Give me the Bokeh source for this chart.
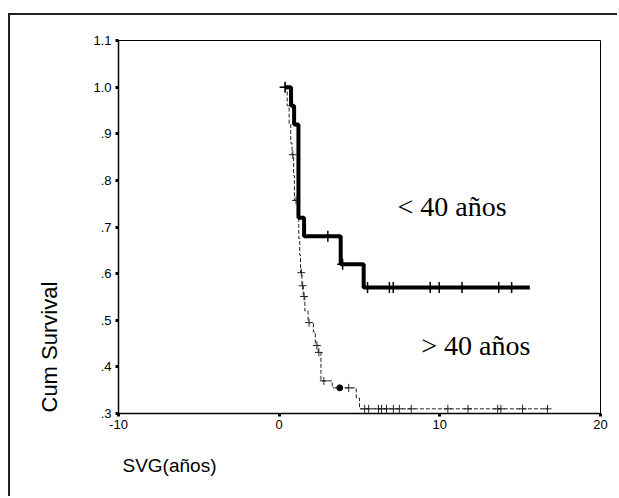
import math
from bokeh.plotting import figure
from bokeh.models import Title, FixedTicker, CustomJSTickFormatter, Range1d, Label
from bokeh.embed import file_html
from bokeh.resources import INLINE

# ---- data ----
x_ticks = [-10, 0, 10, 20]
x_tick_labels = ["-10", "0", "10", "20"]
y_ticks = [0.3, 0.4, 0.5, 0.6, 0.7, 0.8, 0.9, 1.0, 1.1]
y_tick_labels = [".3", ".4", ".5", ".6", ".7", ".8", ".9", "1.0", "1.1"]

# < 40 años (thick curve), step function: times and survival after each time
young_t = [0.4, 0.74, 0.93, 1.2, 1.55, 3.83, 5.26, 15.6]
young_s = [1.0, 0.96, 0.92, 0.72, 0.68, 0.62, 0.57, 0.57]
young_cens_t = [0.37, 3.03, 3.95, 5.5, 6.86, 7.1, 9.4, 9.96, 11.38, 13.67, 14.47]
young_cens_s = [1.0, 0.68, 0.62, 0.57, 0.57, 0.57, 0.57, 0.57, 0.57, 0.57, 0.57]

# > 40 años (thin dashed curve)
old_t = [0.4, 0.5, 0.62, 0.72, 0.8, 0.9, 0.95, 1.15, 1.22, 1.28, 1.33, 1.42, 1.5,
         1.6, 1.8, 2.13, 2.25, 2.43, 2.6, 3.3, 4.8, 5.0, 16.7]
old_s = [1.0, 0.96, 0.92, 0.88, 0.855, 0.81, 0.757, 0.72, 0.675, 0.64, 0.602, 0.574,
         0.551, 0.52, 0.495, 0.475, 0.446, 0.431, 0.37, 0.355, 0.333, 0.31, 0.31]
old_cens_t = [0.37, 0.85, 1.05, 1.38, 1.46, 1.55, 1.86, 2.35, 2.47, 2.78, 4.33,
              5.32, 5.57, 6.18, 6.37, 6.68, 7.11, 7.48, 8.22, 10.5, 11.75, 13.6, 13.8, 15.15, 16.7]
old_cens_s = [1.0, 0.855, 0.757, 0.602, 0.574, 0.551, 0.495, 0.446, 0.431, 0.37, 0.355,
              0.31, 0.31, 0.31, 0.31, 0.31, 0.31, 0.31, 0.31, 0.31, 0.31, 0.31, 0.31, 0.31, 0.31]
old_dot_t = [3.77]
old_dot_s = [0.355]

p = figure(width=609, height=483, x_range=Range1d(-10, 20), y_range=Range1d(0.3, 1.1),
           output_backend="svg", toolbar_location=None,
           min_border_left=105, min_border_right=19, min_border_top=25, min_border_bottom=85)
p.styles = {"border-top": "2px solid #222", "border-left": "2px solid #222",
            "margin-top": "13px", "margin-left": "8px"}
p.grid.visible = False
p.outline_line_color = "#000000"
p.outline_line_width = 1
p.background_fill_color = "white"
p.border_fill_color = "white"

for ax in (p.xaxis[0], p.yaxis[0]):
    ax.axis_line_color = "black"
    ax.axis_line_width = 1.5
    ax.major_tick_line_width = 3
    ax.major_tick_out = 3
    ax.major_tick_in = 0
    ax.minor_tick_line_color = None
    ax.major_label_text_font = "Liberation Sans"
    ax.major_label_text_font_size = "13px"
    ax.major_label_text_color = "black"

p.xaxis.ticker = FixedTicker(ticks=x_ticks)
p.yaxis.ticker = FixedTicker(ticks=y_ticks)
p.xaxis.major_label_standoff = 3
p.yaxis.major_label_standoff = 4
fmt_code = """
const i = tvals.findIndex(t => Math.abs(t - tick) < 1e-6);
return i >= 0 ? tlabs[i] : '';
"""
p.xaxis.formatter = CustomJSTickFormatter(args=dict(tvals=x_ticks, tlabs=x_tick_labels), code=fmt_code)
p.yaxis.formatter = CustomJSTickFormatter(args=dict(tvals=y_ticks, tlabs=y_tick_labels), code=fmt_code)

# axis titles (placed like the original: at the start of each axis)
p.add_layout(Title(text="Cum Survival", align="left", offset=1, standoff=53, vertical_align="top",
                   text_font="Liberation Sans", text_font_size="22px", text_font_style="normal",
                   text_color="black"), "left")
p.add_layout(Title(text="SVG(años)", align="left", offset=4, standoff=42,
                   text_font="Liberation Sans", text_font_size="19px", text_font_style="normal",
                   text_color="black"), "below")

# curves
p.step(old_t, old_s, mode="after", line_color="#222222", line_width=1, line_dash="4 2")
p.scatter(old_cens_t, old_cens_s, marker="cross", size=8, line_color="#222222", line_width=1)
p.scatter(old_dot_t, old_dot_s, marker="circle", size=6, fill_color="black", line_color="black")

p.step(young_t, young_s, mode="after", line_color="black", line_width=4)
p.scatter(young_cens_t, young_cens_s, marker="cross", size=11, line_color="black", line_width=1.5)

# group annotations
p.add_layout(Label(x=10.76, y=0.745, text="< 40 años", text_align="center", text_baseline="middle",
                   text_font="Liberation Serif", text_font_size="28px", text_color="black"))
p.add_layout(Label(x=12.24, y=0.446, text="> 40 años", text_align="center", text_baseline="middle",
                   text_font="Liberation Serif", text_font_size="28px", text_color="black"))

open("out.html", "w").write(file_html(p, INLINE))
